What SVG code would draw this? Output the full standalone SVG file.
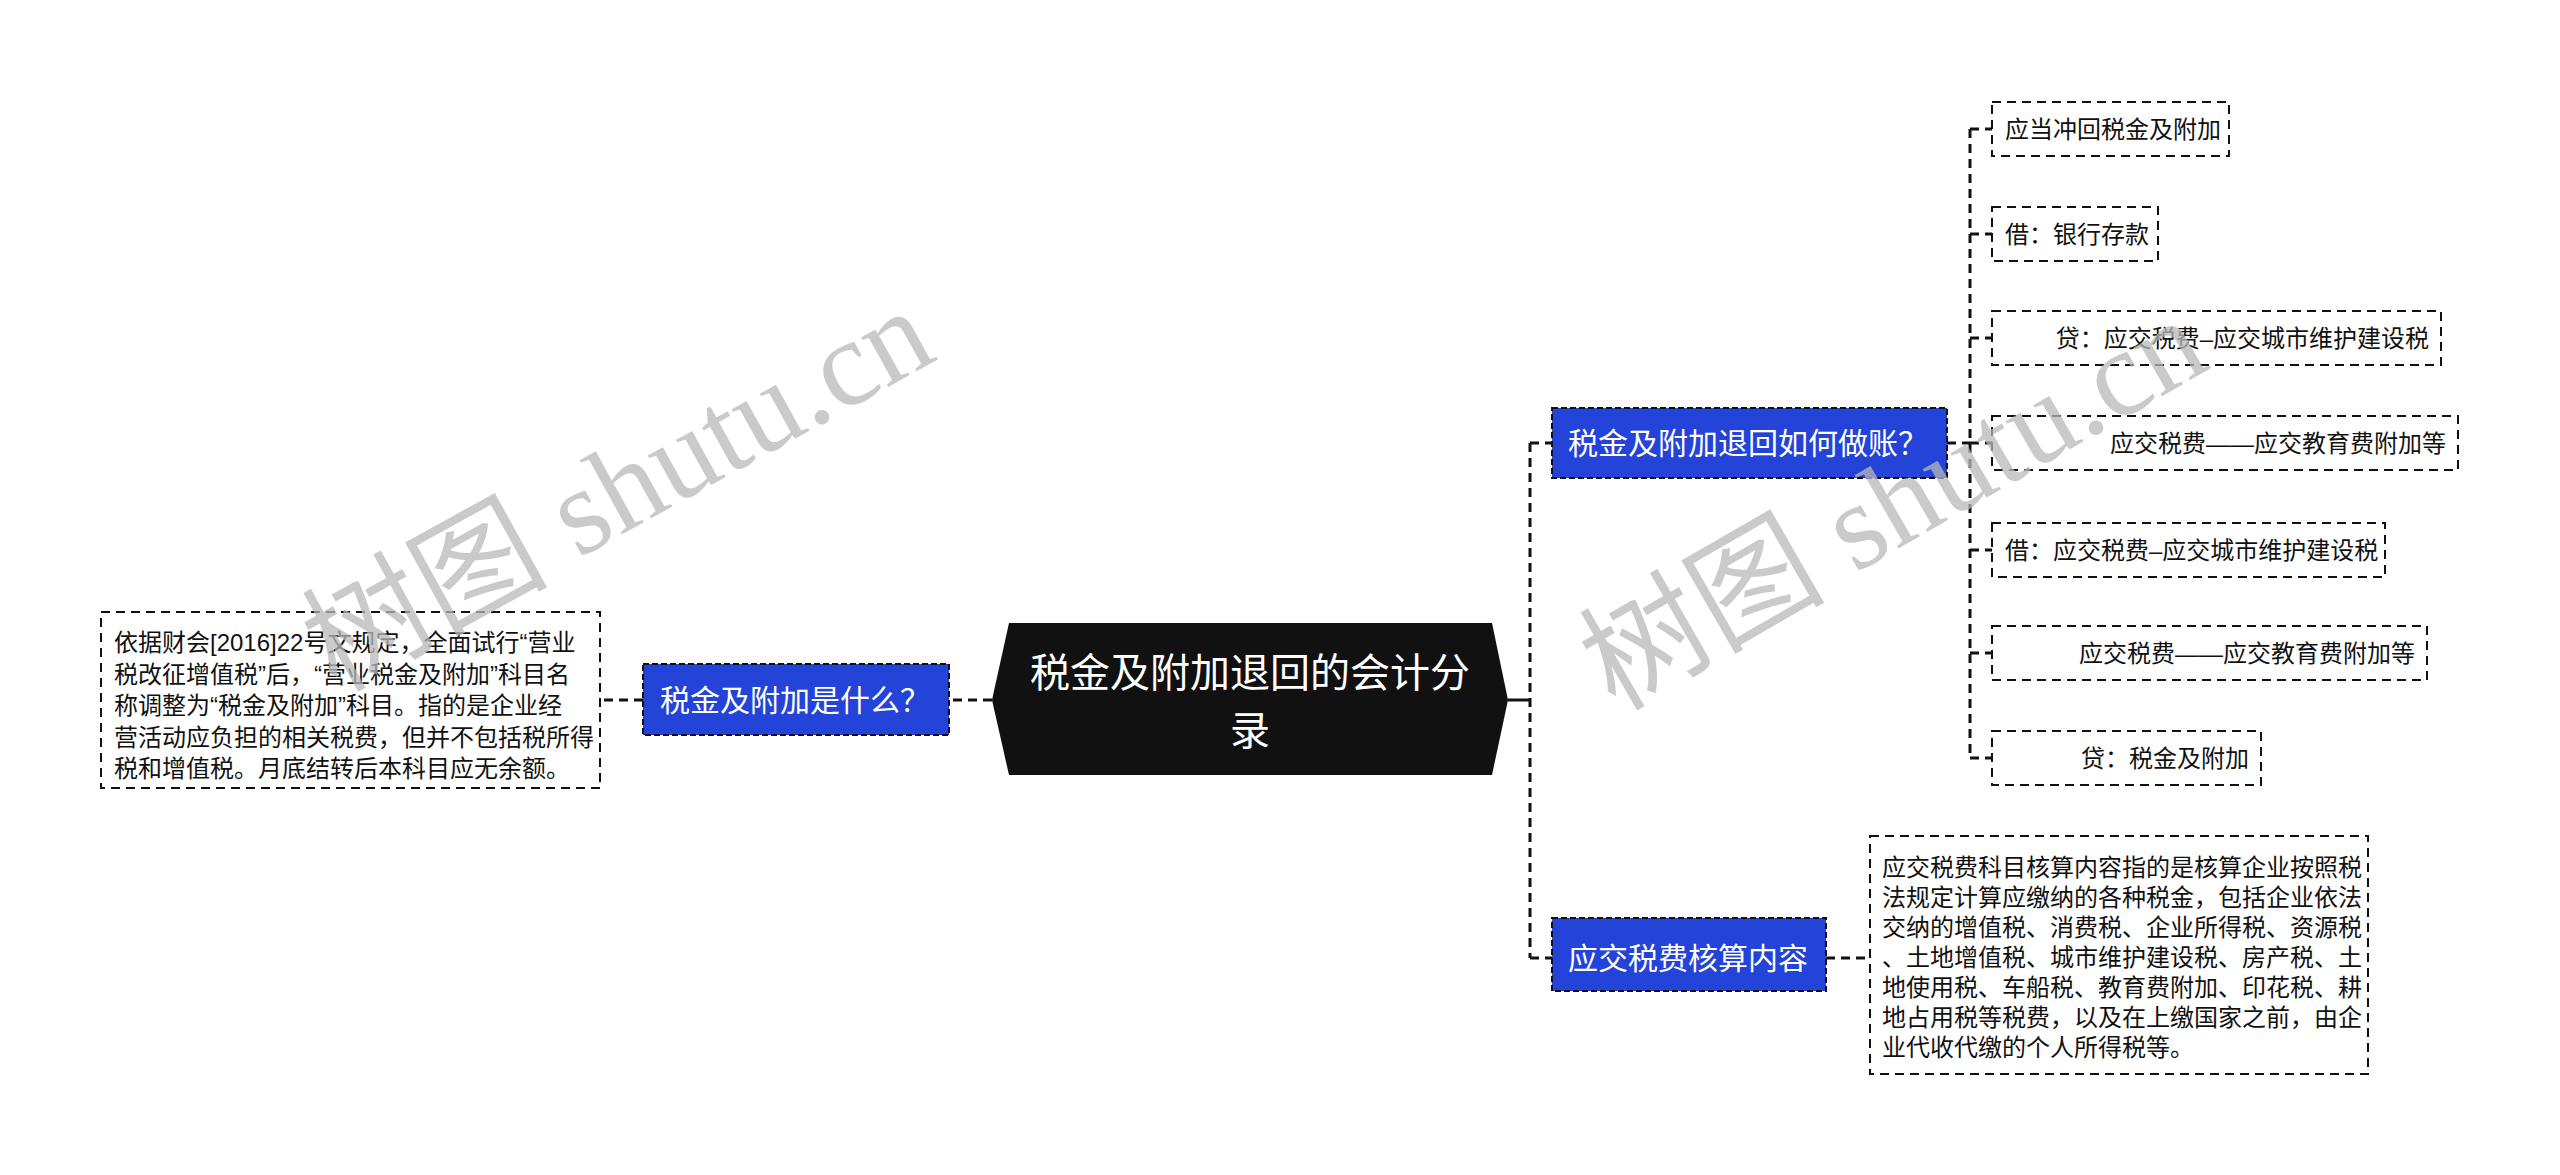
<svg xmlns="http://www.w3.org/2000/svg" width="2560" height="1175" viewBox="0 0 2560 1175">
<style>
.bg{fill:#ffffff}
.conn{fill:none;stroke:#111;stroke-width:3;stroke-dasharray:9 6}
.solid{fill:none;stroke:#111;stroke-width:3}
.blue rect{fill:#2443D9;stroke:#111;stroke-width:2;stroke-dasharray:6 3}
.blue text{fill:#ffffff;font-size:30px}
.leaf rect{fill:#ffffff;stroke:#111;stroke-width:2;stroke-dasharray:9 6}
.leaf text{fill:#111;font-size:24px}
text{font-family:"Liberation Sans","Noto Sans CJK SC",sans-serif}
.root text{fill:#ffffff;font-size:40px}
.wm{fill:#b8b8b8;fill-opacity:0.75;font-size:123px;font-family:"Liberation Serif","Noto Sans CJK SC",serif}
</style>
<rect class="bg" x="0" y="0" width="2560" height="1175"/>

<g id="connectors">
  <path class="conn" d="M992 700 H949"/>
  <path class="conn" d="M643 700 H600"/>
  <path class="solid" d="M1508 700 H1530"/>
  <path class="conn" d="M1530 443 V958"/>
  <path class="conn" d="M1530 443 H1552"/>
  <path class="conn" d="M1530 958 H1552"/>
  <path class="conn" d="M1826 958 H1870"/>
  <path class="conn" d="M1947 443 H1970"/>
  <path class="conn" d="M1970 129 V758"/>
  <path class="conn" d="M1970 129 H1992"/>
  <path class="conn" d="M1970 234 H1992"/>
  <path class="conn" d="M1970 338 H1992"/>
  <path class="conn" d="M1970 443 H1992"/>
  <path class="conn" d="M1970 550 H1992"/>
  <path class="conn" d="M1970 653 H1992"/>
  <path class="conn" d="M1970 758 H1992"/>
</g>

<g id="root" class="root">
  <polygon points="1009,623 1492,623 1508,700 1492,775 1009,775 992,700" fill="#111111"/>
  <text x="1250" y="687" text-anchor="middle">税金及附加退回的会计分</text>
  <text x="1250" y="745" text-anchor="middle">录</text>
</g>

<g id="n-left" class="blue">
  <rect x="643" y="664" width="306" height="71"/>
  <text x="660" y="711">税金及附加是什么？</text>
</g>

<g id="n-left-desc" class="leaf">
  <rect x="101" y="612" width="499" height="176"/>
  <text x="114" y="651">依据财会[2016]22号文规定，全面试行“营业</text>
  <text x="114" y="682.5">税改征增值税”后，“营业税金及附加”科目名</text>
  <text x="114" y="714">称调整为“税金及附加”科目。指的是企业经</text>
  <text x="114" y="745.5">营活动应负担的相关税费，但并不包括税所得</text>
  <text x="114" y="777">税和增值税。月底结转后本科目应无余额。</text>
</g>

<g id="n-right-top" class="blue">
  <rect x="1552" y="408" width="395" height="70"/>
  <text x="1568" y="454">税金及附加退回如何做账？</text>
</g>

<g id="leaf1" class="leaf">
  <rect x="1992" y="102" width="237" height="54"/>
  <text x="2005" y="138">应当冲回税金及附加</text>
</g>
<g id="leaf2" class="leaf">
  <rect x="1992" y="207" width="166" height="54"/>
  <text x="2005" y="243">借：银行存款</text>
</g>
<g id="leaf3" class="leaf">
  <rect x="1992" y="311" width="449" height="54"/>
  <text x="2429" y="347" text-anchor="end">贷：应交税费–应交城市维护建设税</text>
</g>
<g id="leaf4" class="leaf">
  <rect x="1992" y="416" width="466" height="54"/>
  <text x="2446" y="452" text-anchor="end">应交税费——应交教育费附加等</text>
</g>
<g id="leaf5" class="leaf">
  <rect x="1992" y="523" width="393" height="54"/>
  <text x="2005" y="559">借：应交税费–应交城市维护建设税</text>
</g>
<g id="leaf6" class="leaf">
  <rect x="1992" y="626" width="435" height="54"/>
  <text x="2415" y="662" text-anchor="end">应交税费——应交教育费附加等</text>
</g>
<g id="leaf7" class="leaf">
  <rect x="1992" y="731" width="269" height="54"/>
  <text x="2249" y="767" text-anchor="end">贷：税金及附加</text>
</g>

<g id="n-right-bottom" class="blue">
  <rect x="1552" y="918" width="274" height="73"/>
  <text x="1568" y="969">应交税费核算内容</text>
</g>

<g id="n-right-bottom-desc" class="leaf">
  <rect x="1870" y="836" width="498" height="238"/>
  <text x="1882" y="876">应交税费科目核算内容指的是核算企业按照税</text>
  <text x="1882" y="906">法规定计算应缴纳的各种税金，包括企业依法</text>
  <text x="1882" y="936">交纳的增值税、消费税、企业所得税、资源税</text>
  <text x="1882" y="966">、土地增值税、城市维护建设税、房产税、土</text>
  <text x="1882" y="996">地使用税、车船税、教育费附加、印花税、耕</text>
  <text x="1882" y="1026">地占用税等税费，以及在上缴国家之前，由企</text>
  <text x="1882" y="1056">业代收代缴的个人所得税等。</text>
</g>

<g id="watermarks">
  <text class="wm" x="0" y="0" transform="translate(336,693) rotate(-29)">树图 shutu.cn</text>
  <text class="wm" x="0" y="0" transform="translate(1615,712) rotate(-30)">树图 shutu.cn</text>
</g>
</svg>
